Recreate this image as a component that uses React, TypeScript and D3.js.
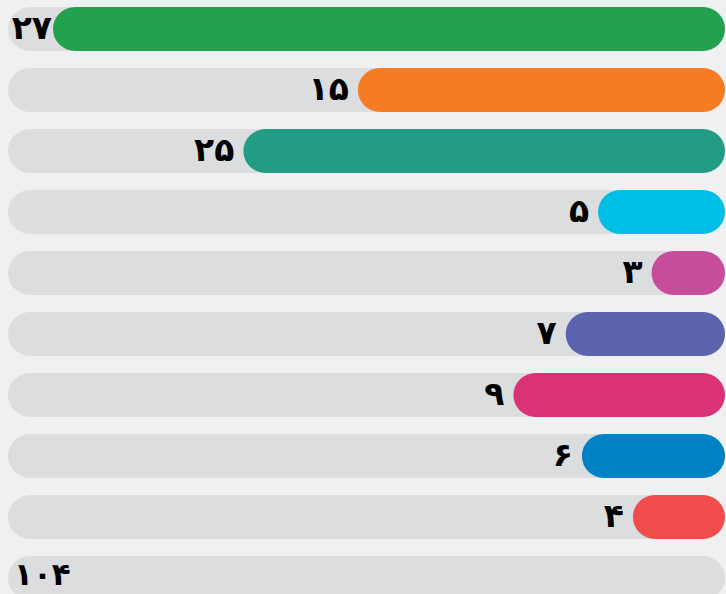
import React from "react";
import * as d3 from "d3";

// counts printed next to each bar (last row is the total)
const counts = [27, 15, 25, 5, 3, 7, 9, 6, 4, 104];
// bar lengths, in count units
const barLengths = [27, 14.75, 19.35, 5.1, 2.95, 6.4, 8.5, 5.75, 3.7, 0];
const barColors = [
  "#22a24f",
  "#f57c22",
  "#239c86",
  "#00bfe6",
  "#c74c9b",
  "#5b63ad",
  "#d93275",
  "#0083c6",
  "#f04c4c",
  "none",
];

const faDigits = "۰۱۲۳۴۵۶۷۸۹";
const toPersian = (n: number) =>
  String(n).replace(/\d/g, (d) => faDigits[+d]);

const App = () => {
  const width = 726;
  const height = 594;
  const trackLeft = 8;
  const trackRight = 725;
  const digitWidth = 20;

  const x = d3.scaleLinear().domain([0, 27]).range([0, 672]);
  const y = d3
    .scaleBand<number>()
    .domain(d3.range(counts.length))
    .range([-1.5, 608.5])
    .paddingInner(0.28)
    .paddingOuter(0.14);
  const h = y.bandwidth();
  const r = h / 2;

  return (
    <div style={{ position: "absolute", left: 0, top: 0, width, height }}>
      <svg width={width} height={height} style={{ display: "block" }}>
        <rect width={width} height={height} fill="#eff0f2" />
        {counts.map((c, i) => {
          const top = y(i)!;
          const w = x(barLengths[i]);
          const barLeft = trackRight - w;
          const isTotal = i === counts.length - 1;
          const label = toPersian(c);
          const minRight = trackLeft + 4 + label.length * digitWidth;
          const labelX = isTotal ? trackLeft + 6 : Math.max(barLeft - 9, minRight);
          return (
            <g key={i}>
              <rect
                x={trackLeft}
                y={top}
                width={trackRight - trackLeft}
                height={h}
                rx={r}
                fill="#dcdddf"
              />
              {w > 0 && (
                <rect
                  x={barLeft}
                  y={top}
                  width={w}
                  height={h}
                  rx={r}
                  fill={barColors[i]}
                />
              )}
              <text
                x={labelX}
                y={top + h / 2}
                dy={isTotal ? "0.22em" : "0.3em"}
                textAnchor={isTotal ? "start" : "end"}
                fontFamily="DejaVu Sans"
                fontWeight="bold"
                fontSize={isTotal ? 31 : 33}
                letterSpacing="-2"
                fill="#000"
              >
                {label}
              </text>
            </g>
          );
        })}
      </svg>
    </div>
  );
};

export default App;
